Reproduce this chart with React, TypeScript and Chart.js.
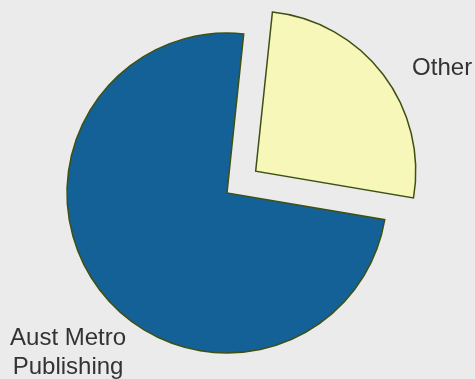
import React, { useEffect, useRef } from "react";
import { Chart, registerables } from "chart.js";

Chart.register(...registerables);

const categories: string[][] = [["Other"], ["Aust Metro", "Publishing"]];
const shares: number[] = [26, 74];
const sliceColors: string[] = ["#f7f7b9", "#136196"];
const sliceOffsets: number[] = [36, 0];
// label placement relative to slice mid-angle point on rim: [dx, dy, align]
const labelPlacement: [number, number, CanvasTextAlign][] = [
  [29, -6.5, "left"],
  [-31.5, 48.7, "center"],
];

const labelPlugin = {
  id: "sliceLabels",
  afterDatasetsDraw(chart: any) {
    const ctx = chart.ctx as CanvasRenderingContext2D;
    const meta = chart.getDatasetMeta(0);
    ctx.save();
    ctx.font = '24px "Liberation Sans", Arial, sans-serif';
    ctx.fillStyle = "#333333";
    ctx.textBaseline = "middle";
    meta.data.forEach((arc: any, i: number) => {
      const p = arc.getProps(["x", "y", "startAngle", "endAngle", "outerRadius"], true);
      const mid = (p.startAngle + p.endAngle) / 2;
      const off = sliceOffsets[i] || 0;
      const cx = p.x + Math.cos(mid) * off;
      const cy = p.y + Math.sin(mid) * off;
      const ax = cx + Math.cos(mid) * p.outerRadius;
      const ay = cy + Math.sin(mid) * p.outerRadius;
      const [dx, dy, align] = labelPlacement[i];
      ctx.textAlign = align;
      categories[i].forEach((line, j) => {
        ctx.fillText(line, ax + dx, ay + dy + j * 28.5);
      });
    });
    ctx.restore();
  },
};

export default function App() {
  const ref = useRef<HTMLCanvasElement | null>(null);
  useEffect(() => {
    document.body.style.margin = "0";
    if (!ref.current) return;
    const chart = new Chart(ref.current, {
      type: "pie",
      data: {
        labels: categories.map((c) => c.join(" ")),
        datasets: [
          {
            data: shares,
            backgroundColor: sliceColors,
            borderColor: "#3e5012",
            borderWidth: 1.5,
            borderJoinStyle: "miter",
            // Chart.js divides the arc offset by 4 when drawing
            offset: sliceOffsets.map((o) => o * 4),
          } as any,
        ],
      },
      options: {
        animation: false,
        responsive: false,
        rotation: 6,
        radius: 160,
        layout: { padding: { left: 0, right: 21, top: 7, bottom: 0 } },
        plugins: {
          legend: { display: false },
          tooltip: { enabled: false },
        },
      } as any,
      plugins: [labelPlugin],
    });
    return () => chart.destroy();
  }, []);
  return (
    <div style={{ width: 475, height: 379, background: "#ebebeb" }}>
      <canvas ref={ref} width={475} height={379} style={{ display: "block" }} />
    </div>
  );
}
